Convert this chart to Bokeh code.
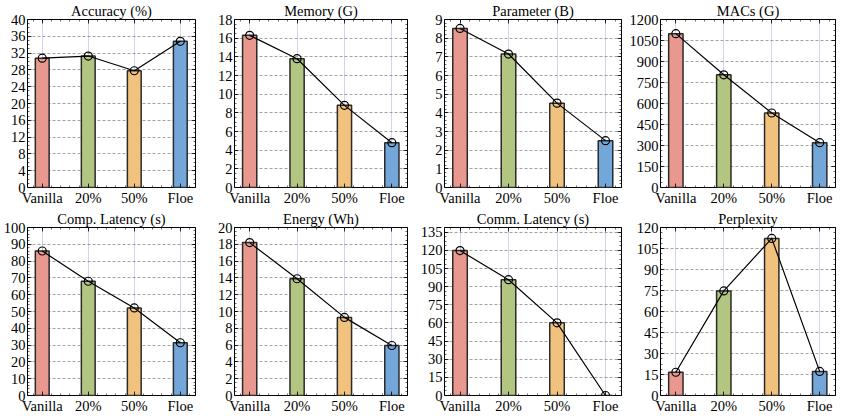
import numpy as np
from bokeh.plotting import figure
from bokeh.layouts import gridplot
from bokeh.models import SingleIntervalTicker, LinearAxis, Range1d, CustomJSTickFormatter
from bokeh.embed import file_html
from bokeh.resources import INLINE

# ---------------- data ----------------
categories = ["Vanilla", "20%", "50%", "Floe"]
bar_colors = ["#E8988F", "#B2C682", "#F0C27E", "#74A7D9"]

accuracy = [30.8, 31.3, 27.8, 34.8]
memory = [16.3, 13.8, 8.8, 4.8]
parameter = [8.52, 7.15, 4.52, 2.51]
macs = [1099, 805, 532, 320]
comp_latency = [86.0, 68.0, 52.1, 31.4]
energy = [18.2, 13.9, 9.3, 5.95]
comm_latency = [119.9, 95.8, 60.1, 0.0]
perplexity = [16.6, 74.7, 112.2, 17.2]

titles = ["Accuracy (%)", "Memory (G)", "Parameter (B)", "MACs (G)",
          "Comp. Latency (s)", "Energy (Wh)", "Comm. Latency (s)", "Perplexity"]
series = [accuracy, memory, parameter, macs, comp_latency, energy, comm_latency, perplexity]
y_max = [40, 18, 9, 1200, 100, 20, 139, 120]
y_step = [4, 2, 1, 150, 10, 2, 15, 15]
y_minor = [4, 4, 5, 4, 5, 4, 4, 4]

# ---------------- layout/style ----------------
FONT = "Liberation Serif"
col_width = [199, 212, 214, 214]
col_left = [20, 35, 33, 35]
col_right = [4, 4, 4, 4]
row_height = 208


def style_axis(ax, labels=True):
    ax.axis_line_color = None
    ax.major_tick_in = 4
    ax.major_tick_out = 0
    ax.minor_tick_in = 2
    ax.minor_tick_out = 0
    ax.major_tick_line_color = "black"
    ax.minor_tick_line_color = "black"
    ax.major_tick_line_width = 0.8
    ax.minor_tick_line_width = 0.6
    if labels:
        ax.major_label_text_font = FONT
        ax.major_label_text_font_size = "14.5px"
        ax.major_label_text_color = "black"
        ax.major_label_standoff = 2
    else:
        ax.formatter = CustomJSTickFormatter(code="return ''")
        ax.major_label_text_font_size = "0px"
        ax.major_label_standoff = 0


figs = []
x_idx = list(range(len(categories)))
for i, (title, vals) in enumerate(zip(titles, series)):
    c = i % 4
    p = figure(width=col_width[c], height=row_height,
               x_range=Range1d(-0.32, 3.33), y_range=Range1d(0, y_max[i]),
               output_backend="svg", toolbar_location=None,
               min_border_left=col_left[c], min_border_right=col_right[c],
               min_border_top=10, min_border_bottom=8)
    p.title.text = title
    p.title.align = "center"
    p.title.text_font = FONT
    p.title.text_font_size = "14.5px"
    p.title.text_font_style = "normal"
    p.title.text_color = "black"
    p.title.standoff = 1
    p.title.offset = 0

    p.outline_line_color = "black"
    p.outline_line_width = 1
    p.background_fill_color = "white"

    xt = SingleIntervalTicker(interval=1, num_minor_ticks=5)
    yt = SingleIntervalTicker(interval=y_step[i], num_minor_ticks=y_minor[i])
    p.xaxis.ticker = xt
    p.yaxis.ticker = yt
    p.xaxis.major_label_overrides = {k: v for k, v in zip(x_idx, categories)}
    style_axis(p.xaxis[0])
    style_axis(p.yaxis[0])

    top_ax = LinearAxis(ticker=SingleIntervalTicker(interval=1, num_minor_ticks=5))
    right_ax = LinearAxis(ticker=SingleIntervalTicker(interval=y_step[i], num_minor_ticks=y_minor[i]))
    style_axis(top_ax, labels=False)
    style_axis(right_ax, labels=False)
    p.add_layout(top_ax, "above")
    p.add_layout(right_ax, "right")

    p.ygrid.grid_line_color = "#8c8c8c"
    p.ygrid.grid_line_dash = "3 2"
    p.ygrid.grid_line_width = 0.8
    p.xgrid.grid_line_color = "#d2d2f4"
    p.xgrid.grid_line_width = 1

    p.vbar(x=x_idx, top=vals, width=0.3, fill_color=bar_colors,
           line_color="#2a2a2a", line_width=1.5)
    p.line(x_idx, vals, line_color="black", line_width=1.2)
    p.scatter(x_idx, vals, marker="circle", size=8, fill_color=None,
              line_color="black", line_width=1.2)
    figs.append(p)

grid = gridplot([figs[0:4], figs[4:8]], toolbar_location=None)

open("out.html", "w").write(file_html(grid, INLINE))
